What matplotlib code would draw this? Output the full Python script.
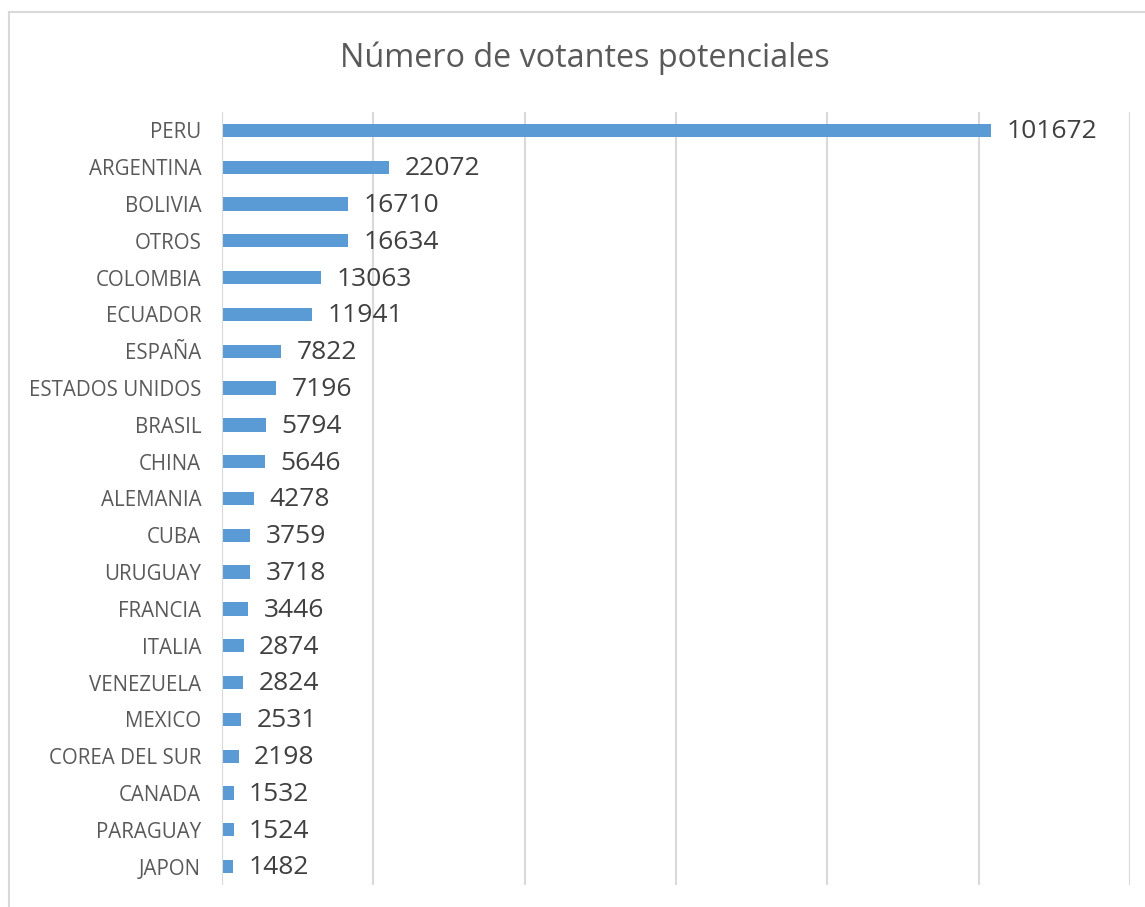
import matplotlib
matplotlib.use("Agg")
import matplotlib.pyplot as plt
from matplotlib.patches import Rectangle

plt.rcParams['font.family'] = ['Open Sans', 'DejaVu Sans']

countries = ["PERU", "ARGENTINA", "BOLIVIA", "OTROS", "COLOMBIA", "ECUADOR", "ESPAÑA",
             "ESTADOS UNIDOS", "BRASIL", "CHINA", "ALEMANIA", "CUBA", "URUGUAY", "FRANCIA",
             "ITALIA", "VENEZUELA", "MEXICO", "COREA DEL SUR", "CANADA", "PARAGUAY", "JAPON"]
values = [101672, 22072, 16710, 16634, 13063, 11941, 7822, 7196, 5794, 5646, 4278,
          3759, 3718, 3446, 2874, 2824, 2531, 2198, 1532, 1524, 1482]
title = "Número de votantes potenciales"

W, H = 1145, 907
fig = plt.figure(figsize=(W/100, H/100), dpi=100)
fig.patch.set_facecolor("white")

# outer chart frame
fig.add_artist(Rectangle((9/W, -0.01), 1.2, 1 - 12/H + 0.01, transform=fig.transFigure,
                         fill=False, edgecolor="#d9d9d9", linewidth=1.5))

left, right, top, bottom = 222, 1130, 112, 885
ax = fig.add_axes([left/W, 1 - bottom/H, (right-left)/W, (bottom-top)/H])

y = list(range(len(countries)))
ax.barh(y, values, height=0.36, color="#5B9BD5", zorder=3)
ax.set_ylim(len(countries) - 0.5, -0.5)
ax.set_xlim(0, 120000)
ax.set_xticks(range(0, 120001, 20000))
ax.xaxis.grid(True, color="#d9d9d9", linewidth=1.5, zorder=0)
ax.tick_params(axis="x", length=0, labelbottom=False)
ax.tick_params(axis="y", length=0, pad=15, labelsize=14.8, labelcolor="#595959")
ax.set_yticks(y)
ax.set_yticklabels(countries)
for s in ax.spines.values():
    s.set_visible(False)
ax.axvline(0, color="#d9d9d9", linewidth=1.5, zorder=4)

for yi, v in zip(y, values):
    ax.annotate(str(v), (v, yi), xytext=(11, -1), textcoords="offset points",
                va="center", ha="left", fontsize=19, color="#404040")

fig.text((340+830)/2/W, 1 - 58/H, title, ha="center", va="center", fontsize=23.3, color="#595959")

fig.savefig("out.png", dpi=100)
